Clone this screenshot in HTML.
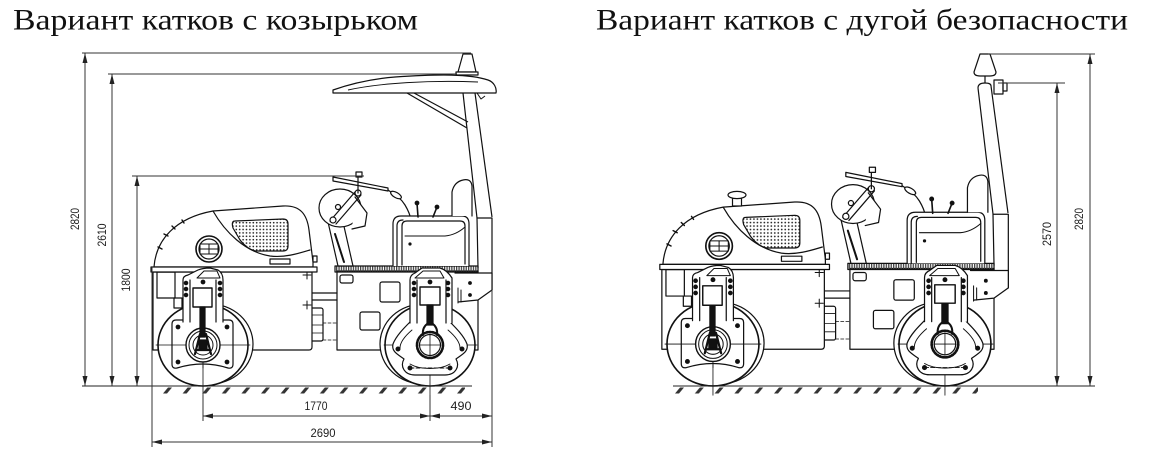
<!DOCTYPE html>
<html>
<head>
<meta charset="utf-8">
<style>
html,body{margin:0;padding:0;background:#fff;}
svg{display:block;}
</style>
</head>
<body>
<svg width="1150" height="466" viewBox="0 0 1150 466" xmlns="http://www.w3.org/2000/svg">
<defs>
  <pattern id="dots" width="3.4" height="3.4" patternUnits="userSpaceOnUse">
    <circle cx="1.7" cy="1.7" r="0.85" fill="#222"/>
  </pattern>
  <pattern id="deck" width="2.4" height="6" patternUnits="userSpaceOnUse">
    <rect x="0" y="0" width="1.3" height="6" fill="#444"/>
  </pattern>
  <pattern id="hL" x="163" y="387" width="19.6" height="7" patternUnits="userSpaceOnUse">
    <path d="M0,6.5 L4,6.5 L9,0.5 L5,0.5 Z" fill="#333"/>
  </pattern>
  <pattern id="hR" x="675" y="387" width="19.8" height="7" patternUnits="userSpaceOnUse">
    <path d="M0,6.5 L4,6.5 L9,0.5 L5,0.5 Z" fill="#333"/>
  </pattern>

  <g id="m" fill="none" stroke="#111" stroke-width="1.2" stroke-linejoin="round" stroke-linecap="round">
    <!-- rear post lower part -->
    <path d="M477,218 L478,268 M477,218 L492,218 L492,290"/>
    <!-- rear body -->
    <rect x="337" y="271" width="141" height="79" fill="#fff"/>
    <path d="M455,273 L492,273 L492,290 L478,300 L458,302" fill="#fff"/>
    <circle cx="470" cy="283" r="1.3" fill="#111"/>
    <circle cx="470" cy="295" r="1.3" fill="#111"/>
    <path d="M458,288 L458,303 M461,290 L461,302" stroke-width="1"/>
    <rect x="340" y="275" width="13" height="8" rx="2"/>
    <rect x="380" y="282" width="20" height="20" rx="2"/>
    <rect x="360" y="312" width="20" height="18" rx="2"/>
    <!-- deck -->
    <rect x="335" y="266" width="143" height="6" fill="url(#deck)"/>
    <!-- hitch -->
    <path d="M312,293 L337,293 M312,300 L337,300"/>
    <rect x="310" y="308" width="13" height="33" rx="2" fill="#fff"/>
    <path d="M310,315 L323,315 M310,325 L323,325 M310,333 L323,333" stroke-width="0.8"/>
    <path d="M323,323 L337,323 M323,340 L337,340" stroke-width="0.8" stroke-dasharray="3 2"/>
    <!-- front body -->
    <path d="M153,272 L312,272 L312,347 Q312,350 309,350 L153,350 Z" fill="#fff"/>
    <rect x="157" y="272" width="18" height="26"/>
    <path d="M303,275 L311,275 M307,271 L307,279 M303,305 L311,305 M307,301 L307,309" stroke-width="1"/>
    <!-- hood -->
    <path d="M154,267 C156,240 175,218 213,211 L283,206 C300,205 307,214 309,230 L313,262 L313,267 Z" fill="#fff"/>
    <path d="M213,211 C225,232 245,252 270,256 C285,258 300,253 310,250"/>
    <path d="M235,221 L283,219 Q288,219 288,224 L288,246 Q288,251 283,251 L256,251 Q248,250 240,240 L233,228 Q231,221 235,221 Z" fill="url(#dots)"/>
    <circle cx="209" cy="249" r="13" stroke-width="1.6" fill="#fff"/>
    <circle cx="209" cy="249" r="10"/>
    <rect x="200" y="244" width="18" height="10" stroke-width="1"/>
    <path d="M200,249 L218,249 M209,244 L209,254" stroke-width="1"/>
    <rect x="270" y="259" width="20" height="5"/>
    <rect x="313" y="256" width="4" height="6"/>
    <path d="M158,247 L162,249 M164,234 L168,236 M172,226 L175,229 M182,220 L184,223" stroke-width="1.4"/>
    <!-- band -->
    <rect x="151" y="267" width="166" height="5" fill="#fff"/>

    <!-- front drum -->
    <ellipse cx="210" cy="344" rx="43" ry="40" fill="#fff"/>
    <ellipse cx="203" cy="345" rx="45" ry="41" fill="#fff" stroke-width="1.6"/>
    <path d="M156,345 L250,345 M203,300 L203,395" stroke-width="0.8"/>
    <path d="M172,324 Q172,320 176,320 L229,320 Q233,320 233,324 L233,364 Q233,369 228,368 Q203,360 177,368 Q172,369 172,364 Z" fill="#fff"/>
    <circle cx="178" cy="327" r="1.8" fill="#111"/>
    <circle cx="227" cy="327" r="1.8" fill="#111"/>
    <circle cx="178" cy="362" r="1.8" fill="#111"/>
    <circle cx="227" cy="362" r="1.8" fill="#111"/>
    <path d="M172,345 L233,345 M203,320 L203,368" stroke-width="0.8"/>
    <circle cx="203" cy="345" r="17" fill="#fff" stroke-width="1.4"/>
    <circle cx="203" cy="345" r="14" stroke-width="1"/>
    <circle cx="203" cy="345" r="10" stroke-width="1"/>
    <path d="M200,334 L195,354 M206,334 L211,354 M196,350 L210,350" stroke-width="2.2"/>
    <rect x="199" y="340" width="8" height="9" fill="#111"/>
    <!-- front yoke tower -->
    <path d="M183,322 L183,280 Q183,276 188,275 L198,270 Q203,268 210,268 L218,270 Q223,273 223,280 L223,322" fill="#fff"/>
    <path d="M190,280 L190,322 M216,280 L216,322"/>
    <path d="M197,278 L204,271 L217,271 L220,278 Z" stroke-width="1"/>
    <circle cx="186" cy="283" r="1.7" fill="#111"/><circle cx="186" cy="289" r="1.7" fill="#111"/><circle cx="186" cy="295" r="1.7" fill="#111"/>
    <circle cx="220" cy="283" r="1.7" fill="#111"/><circle cx="220" cy="289" r="1.7" fill="#111"/><circle cx="220" cy="295" r="1.7" fill="#111"/>
    <circle cx="203" cy="282" r="1.8" fill="#111"/>
    <rect x="193" y="288" width="19" height="19" fill="#fff" stroke-width="1.4"/>
    <rect x="200" y="307" width="5" height="30" fill="#111"/>
    <rect x="174" y="298" width="8" height="10"/>

    <!-- rear drum -->
    <ellipse cx="423" cy="344" rx="43" ry="40" fill="#fff"/>
    <ellipse cx="430" cy="345" rx="45" ry="41" fill="#fff" stroke-width="1.6"/>
    <path d="M384,345 L477,345 M430,300 L430,395" stroke-width="0.8"/>
    <path d="M410,322 C404,328 396,336 393,344 C391,352 399,355 404,359 C400,366 404,375 415,375 L445,375 C456,375 460,366 456,359 C461,355 469,352 467,344 C464,336 456,328 450,322" fill="#fff"/>
    <path d="M412,330 C405,336 400,342 400,348 M448,330 C455,336 460,342 460,348 M410,364 C420,370 440,370 450,364" stroke-width="0.9"/>
    <circle cx="398" cy="349" r="1.9" fill="#111"/>
    <circle cx="462" cy="349" r="1.9" fill="#111"/>
    <circle cx="410" cy="368" r="1.9" fill="#111"/>
    <circle cx="450" cy="368" r="1.9" fill="#111"/>
    <path d="M410,368 L450,368" stroke-width="0.9" stroke-dasharray="4 2"/>
    <circle cx="430" cy="345" r="13" fill="#fff" stroke-width="2.6" stroke-dasharray="1.6 1.4"/>
    <circle cx="430" cy="345" r="10.5" fill="#fff"/>
    <path d="M419,345 L441,345 M430,334 L430,356" stroke-width="0.8"/>
    <!-- rear yoke tower -->
    <path d="M410,323 L410,280 Q410,275 415,273 L422,268 L440,268 Q447,270 452,278 L452,323" fill="#fff"/>
    <path d="M417,280 L417,323 M446,280 L446,323"/>
    <path d="M415,278 L423,271 L440,271 L444,278 Z" stroke-width="1"/>
    <circle cx="414" cy="283" r="1.7" fill="#111"/><circle cx="414" cy="289" r="1.7" fill="#111"/><circle cx="414" cy="295" r="1.7" fill="#111"/>
    <circle cx="448" cy="283" r="1.7" fill="#111"/><circle cx="448" cy="289" r="1.7" fill="#111"/><circle cx="448" cy="295" r="1.7" fill="#111"/>
    <circle cx="430" cy="282" r="1.8" fill="#111"/>
    <rect x="420" y="287" width="20" height="18" fill="#fff" stroke-width="1.4"/>
    <rect x="427" y="305" width="6" height="20" fill="#111"/>
    <path d="M427,324 Q422,328 423,335 M433,324 Q438,328 437,335" stroke-width="2"/>

    <!-- steering column & disc -->
    <path d="M338,266 L328,222 L343,222 L353,266 Z" fill="#fff"/>
    <path d="M335,234 L344,262" stroke-width="2"/>
    <ellipse cx="340" cy="208" rx="21" ry="19" fill="#fff"/>
    <path d="M355,197 L367,213 L365,226 L352,229" fill="#fff"/>
    <circle cx="338" cy="207" r="2.5"/>
    <path d="M330,221 L355,192 M336,224 L361,195"/>
    <circle cx="333" cy="220" r="3" fill="#fff"/>
    <circle cx="358" cy="193" r="3" fill="#fff"/>
    <path d="M333,177 L388,188 L388,191 L333,181 Z" fill="#fff"/>
    <path d="M358,176 L358,193"/>
    <rect x="356" y="172" width="6" height="5" fill="#fff"/>
    <path d="M388,190 C395,195 400,197 405,205 C408,210 410,214 411,220"/>
    <ellipse cx="396" cy="195" rx="6" ry="2.6" transform="rotate(30 396 195)" fill="#fff"/>
    <!-- seat box -->
    <path d="M393,266 L393,224 Q393,216 401,216 L462,216 Q469,216 469,224 L469,266" fill="#fff"/>
    <path d="M397,266 L397,226 Q397,220 403,220"/>
    <path d="M402,265 L402,226 Q402,221 407,221 L460,221 Q465,221 465,226 L465,264"/>
    <path d="M405,236 L445,236 Q456,235 465,227" stroke-width="1"/>
    <circle cx="410" cy="244" r="1" fill="#111"/>
    <path d="M452,216 L452,192 Q454,182 463,180 Q471,178 472,186 L472,216" fill="#fff"/>
    <path d="M417,203 L418,217 M437,207 L433,217" stroke-width="1.6"/>
    <circle cx="417" cy="203" r="1.8" fill="#111"/>
    <circle cx="437" cy="207" r="1.8" fill="#111"/>
  </g>
</defs>

<!-- Titles -->
<text x="13" y="29.5" font-family="'Liberation Serif','Noto Serif CJK SC',serif" font-size="30" fill="#111" textLength="405" lengthAdjust="spacingAndGlyphs">Вариант катков с козырьком</text>
<text x="596" y="29.5" font-family="'Liberation Serif','Noto Serif CJK SC',serif" font-size="30" fill="#111" textLength="532" lengthAdjust="spacingAndGlyphs">Вариант катков с дугой безопасности</text>

<!-- LEFT ROLLER -->
<use href="#m"/>
<!-- canopy -->
<g fill="none" stroke="#111" stroke-width="1.2" stroke-linejoin="round">
  <path d="M463,93 L477,218 M475,93 L492,217"/>
  <path d="M407,93 L467,128 M414,93 L468,122"/>
  <path d="M333,93 L496,93 C497,88 494,82 488,80 C470,74 440,74 395,77 C370,79 350,84 333,90 Z" fill="#fff"/>
  <path d="M348,90 C380,83 430,80 478,82" stroke-width="0.9"/>
  <path d="M477,93 L481,99 L485,96" stroke-width="1"/>
  <path d="M458,72 L463,54 L472,54 L476,72 Z" fill="#fff"/>
  <rect x="456" y="72" width="22" height="3" fill="#fff"/>
</g>
<!-- ground hatching left -->
<line x1="82" y1="386" x2="472" y2="386" stroke="#222" stroke-width="1.1"/>
<rect x="160" y="387" width="305" height="7" fill="url(#hL)"/>

<!-- dimensions left -->
<g stroke="#333" stroke-width="1" fill="none">
  <path d="M82,53 L471,53 M108,74 L457,74 M132,176 L364,176"/>
  <path d="M85,53 L85,386 M112,74 L112,386 M137,176 L137,386"/>
  <path d="M152,267 L152,447 M492,290 L492,447 M203,395 L203,421 M430,395 L430,421"/>
  <path d="M203,416 L492,416 M152,442 L492,442"/>
</g>
<g fill="#222">
  <polygon points="85,53 82.5,63 87.5,63"/><polygon points="85,386 82.5,376 87.5,376"/>
  <polygon points="112,74 109.5,84 114.5,84"/><polygon points="112,386 109.5,376 114.5,376"/>
  <polygon points="137,176 134.5,186 139.5,186"/><polygon points="137,386 134.5,376 139.5,376"/>
  <polygon points="203,416 213,413.5 213,418.5"/><polygon points="430,416 420,413.5 420,418.5"/>
  <polygon points="430,416 440,413.5 440,418.5"/><polygon points="492,416 482,413.5 482,418.5"/>
  <polygon points="152,442 162,439.5 162,444.5"/><polygon points="492,442 482,439.5 482,444.5"/>
</g>
<g font-family="'Liberation Sans Narrow','Liberation Sans',sans-serif" font-size="12" fill="#222" text-anchor="middle">
  <text transform="translate(79,219) rotate(-90)" textLength="22" lengthAdjust="spacingAndGlyphs">2820</text>
  <text transform="translate(106,235) rotate(-90)" textLength="23" lengthAdjust="spacingAndGlyphs">2610</text>
  <text transform="translate(130,280) rotate(-90)" textLength="23" lengthAdjust="spacingAndGlyphs">1800</text>
  <text x="316" y="410" textLength="23" lengthAdjust="spacingAndGlyphs">1770</text>
  <text x="461" y="410" textLength="21" lengthAdjust="spacingAndGlyphs">490</text>
  <text x="323" y="437" textLength="25" lengthAdjust="spacingAndGlyphs">2690</text>
</g>

<!-- RIGHT ROLLER -->
<use href="#m" transform="matrix(1.022 0 0 1.022 505.5 -8.5)"/>
<g fill="none" stroke="#111" stroke-width="1.2" stroke-linejoin="round">
  <!-- hood cap -->
  <rect x="732.5" y="197" width="9" height="9" fill="#fff"/>
  <ellipse cx="737" cy="195" rx="9" ry="3.6" fill="#fff"/>
  <!-- ROPS -->
  <path d="M978,88 L993,214 M991,86 L1008,213"/>
  <path d="M978,88 Q978,83 985,83 Q991,83 991,86"/>
  <rect x="994" y="80" width="9" height="14" fill="#fff"/>
  <rect x="1003" y="83" width="4" height="8"/>
  <path d="M985,75 L985,83"/>
  <path d="M974,72 L980,54 L990,54 L996,72 Q996,76 990,76 L980,76 Q974,76 974,72 Z" fill="#fff"/>
</g>
<!-- ground right -->
<line x1="673" y1="386" x2="1095" y2="386" stroke="#222" stroke-width="1.1"/>
<rect x="672" y="387" width="306" height="7" fill="url(#hR)"/>
<!-- dimensions right -->
<g stroke="#333" stroke-width="1" fill="none">
  <path d="M998,83 L1065,83 M988,54 L1095,54"/>
  <path d="M1057,83 L1057,386 M1090,54 L1090,386"/>
</g>
<g fill="#222">
  <polygon points="1057,83 1054.5,93 1059.5,93"/><polygon points="1057,386 1054.5,376 1059.5,376"/>
  <polygon points="1090,54 1087.5,64 1092.5,64"/><polygon points="1090,386 1087.5,376 1092.5,376"/>
</g>
<g font-family="'Liberation Sans Narrow','Liberation Sans',sans-serif" font-size="12" fill="#222" text-anchor="middle">
  <text transform="translate(1051,234) rotate(-90)" textLength="24" lengthAdjust="spacingAndGlyphs">2570</text>
  <text transform="translate(1083,219) rotate(-90)" textLength="22" lengthAdjust="spacingAndGlyphs">2820</text>
</g>
</svg>
</body>
</html>
